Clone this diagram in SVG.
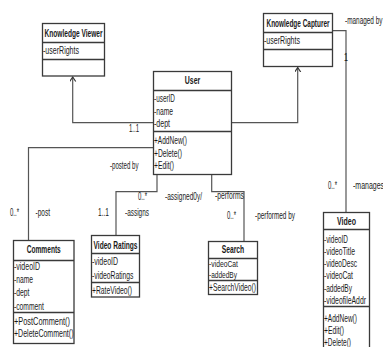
<svg xmlns="http://www.w3.org/2000/svg" width="383" height="347" viewBox="0 0 383 347">
<defs>
<marker id="arr" markerUnits="userSpaceOnUse" markerWidth="8" markerHeight="8" refX="4.5" refY="3" orient="auto">
<path d="M0,0 L4.5,3 L0,6" fill="none" stroke="#333" stroke-width="1.2"/>
</marker>
</defs>
<style>
.box{fill:#fff;stroke:#3a3a3a;stroke-width:1.3}
.dv{stroke:#3a3a3a;stroke-width:1.5}
text{font-family:"Liberation Sans",Arial,sans-serif;font-size:10.5px;fill:#1a1a1a}
.h{font-weight:bold;text-anchor:middle}
.l{font-size:10px}
.s{font-size:9.5px}
.conn{fill:none;stroke:#555;stroke-width:1.2}
</style>
<rect width="383" height="347" fill="#fff"/>
<g id="connectors">
<path class="conn" d="M153.5,122.7 H72.7 V77" marker-end="url(#arr)"/>
<path class="conn" d="M231.5,122.7 H297.7 V67.5" marker-end="url(#arr)"/>
<path class="conn" d="M153.5,147.7 H28.5 V240.5"/>
<path class="conn" d="M157,174.5 V191.7 H116 V235.5"/>
<path class="conn" d="M211.7,174.5 V191.7 H244 V241.5"/>
<path class="conn" d="M332.5,30.7 H346 V212.5"/>
<text class="l" x="129" y="131.5" textLength="10" lengthAdjust="spacingAndGlyphs">1..1</text>
<text class="l" x="110" y="168.5" textLength="28.5" lengthAdjust="spacingAndGlyphs">-posted by</text>
<text class="l" x="10" y="216" textLength="9" lengthAdjust="spacingAndGlyphs">0..*</text>
<text class="l" x="35.5" y="216" textLength="14.5" lengthAdjust="spacingAndGlyphs">-post</text>
<text class="l" x="138" y="200" textLength="9" lengthAdjust="spacingAndGlyphs">0..*</text>
<text class="l" x="98" y="216" textLength="11" lengthAdjust="spacingAndGlyphs">1..1</text>
<text class="l" x="125" y="216" textLength="24" lengthAdjust="spacingAndGlyphs">-assigns</text>
<text class="l" x="165" y="200" textLength="37" lengthAdjust="spacingAndGlyphs">-assigned0y/</text>
<text class="l" x="215" y="199" textLength="29" lengthAdjust="spacingAndGlyphs">-performs</text>
<text class="l" x="227" y="218.5" textLength="9" lengthAdjust="spacingAndGlyphs">0..*</text>
<text class="l" x="255" y="218.5" textLength="40" lengthAdjust="spacingAndGlyphs">-performed by</text>
<text class="l" x="345" y="23.5" textLength="37.5" lengthAdjust="spacingAndGlyphs">-managed by</text>
<text class="l" x="344" y="61" textLength="4" lengthAdjust="spacingAndGlyphs">1</text>
<text class="l" x="328" y="188.5" textLength="9" lengthAdjust="spacingAndGlyphs">0..*</text>
<text class="l" x="353" y="188.5" textLength="31" lengthAdjust="spacingAndGlyphs">-manages</text>
</g>
<g id="knowledge-viewer">
<rect class="box" x="42.5" y="23.5" width="62" height="52.5"/>
<line class="dv" x1="42.5" y1="42.5" x2="104.5" y2="42.5"/>
<line class="dv" x1="42.5" y1="59.5" x2="104.5" y2="59.5"/>
<text class="h" x="73.5" y="36.5" textLength="58" lengthAdjust="spacingAndGlyphs">Knowledge Viewer</text>
<text x="43" y="53.5" textLength="36" lengthAdjust="spacingAndGlyphs">-userRights</text>
</g>
<g id="knowledge-capturer">
<rect class="box" x="263.5" y="13.5" width="69" height="53"/>
<line class="dv" x1="263.5" y1="32.5" x2="332.5" y2="32.5"/>
<line class="dv" x1="263.5" y1="49.5" x2="332.5" y2="49.5"/>
<text class="h" x="298" y="26.5" textLength="63" lengthAdjust="spacingAndGlyphs">Knowledge Capturer</text>
<text x="264" y="43.5" textLength="36" lengthAdjust="spacingAndGlyphs">-userRights</text>
</g>
<g id="user">
<rect class="box" x="153.5" y="71.5" width="78" height="103"/>
<line class="dv" x1="153.5" y1="90.5" x2="231.5" y2="90.5"/>
<line class="dv" x1="153.5" y1="131.5" x2="231.5" y2="131.5"/>
<text class="h" x="192.5" y="84" textLength="15.5" lengthAdjust="spacingAndGlyphs">User</text>
<text x="154" y="102" textLength="21" lengthAdjust="spacingAndGlyphs">-userID</text>
<text x="154" y="114.5" textLength="19" lengthAdjust="spacingAndGlyphs">-name</text>
<text x="154" y="127" textLength="16" lengthAdjust="spacingAndGlyphs">-dept</text>
<text x="154" y="144" textLength="33" lengthAdjust="spacingAndGlyphs">+AddNew()</text>
<text x="154" y="156.5" textLength="28" lengthAdjust="spacingAndGlyphs">+Delete()</text>
<text x="154" y="169" textLength="20" lengthAdjust="spacingAndGlyphs">+Edit()</text>
</g>
<g id="comments">
<rect class="box" x="13.5" y="240.5" width="60.5" height="103"/>
<line class="dv" x1="13.5" y1="260.5" x2="74" y2="260.5"/>
<line class="dv" x1="13.5" y1="312.5" x2="74" y2="312.5"/>
<text class="h" x="43.75" y="253" textLength="34" lengthAdjust="spacingAndGlyphs">Comments</text>
<text x="14" y="270.2" textLength="26" lengthAdjust="spacingAndGlyphs">-videoID</text>
<text x="14" y="282.8" textLength="19" lengthAdjust="spacingAndGlyphs">-name</text>
<text x="14" y="296.2" textLength="15.5" lengthAdjust="spacingAndGlyphs">-dept</text>
<text x="14" y="309.5" textLength="30" lengthAdjust="spacingAndGlyphs">-comment</text>
<text x="14" y="325" textLength="56" lengthAdjust="spacingAndGlyphs">+PostComment()</text>
<text x="14" y="337" textLength="59.5" lengthAdjust="spacingAndGlyphs">+DeleteComment()</text>
</g>
<g id="video-ratings">
<rect class="box" x="91.5" y="235.5" width="48" height="61.5"/>
<line class="dv" x1="91.5" y1="253.5" x2="139.5" y2="253.5"/>
<line class="dv" x1="91.5" y1="282.5" x2="139.5" y2="282.5"/>
<text class="h" x="115.5" y="248.5" textLength="44" lengthAdjust="spacingAndGlyphs">Video Ratings</text>
<text x="92" y="265" textLength="26" lengthAdjust="spacingAndGlyphs">-videoID</text>
<text x="92" y="279" textLength="41.5" lengthAdjust="spacingAndGlyphs">-videoRatings</text>
<text x="92" y="294" textLength="40" lengthAdjust="spacingAndGlyphs">+RateVideo()</text>
</g>
<g id="search">
<rect class="box" x="208.5" y="241.5" width="49" height="53"/>
<line class="dv" x1="208.5" y1="258.5" x2="257.5" y2="258.5"/>
<line class="dv" x1="208.5" y1="280.5" x2="257.5" y2="280.5"/>
<text class="h" x="233" y="253" textLength="22.5" lengthAdjust="spacingAndGlyphs">Search</text>
<text class="s" x="209" y="267" textLength="29" lengthAdjust="spacingAndGlyphs">-videoCat</text>
<text class="s" x="209" y="277.8" textLength="28" lengthAdjust="spacingAndGlyphs">-addedBy</text>
<text x="209" y="291.3" textLength="47" lengthAdjust="spacingAndGlyphs">+SearchVideo()</text>
</g>
<g id="video">
<rect class="box" x="323.5" y="212.5" width="46" height="140"/>
<line class="dv" x1="323.5" y1="229.5" x2="369.5" y2="229.5"/>
<line class="dv" x1="323.5" y1="306.5" x2="369.5" y2="306.5"/>
<text class="h" x="346.5" y="224.5" textLength="19" lengthAdjust="spacingAndGlyphs">Video</text>
<text x="324" y="242.5" textLength="24" lengthAdjust="spacingAndGlyphs">-videoID</text>
<text x="324" y="254.8" textLength="31" lengthAdjust="spacingAndGlyphs">-videoTitle</text>
<text x="324" y="267.1" textLength="33" lengthAdjust="spacingAndGlyphs">-videoDesc</text>
<text x="324" y="279.4" textLength="29" lengthAdjust="spacingAndGlyphs">-videoCat</text>
<text x="324" y="291.7" textLength="28" lengthAdjust="spacingAndGlyphs">-addedBy</text>
<text x="324" y="304" textLength="42" lengthAdjust="spacingAndGlyphs">-videofileAddr</text>
<text x="324" y="321.5" textLength="33" lengthAdjust="spacingAndGlyphs">+AddNew()</text>
<text x="324" y="333.5" textLength="20" lengthAdjust="spacingAndGlyphs">+Edit()</text>
<text x="324" y="345.5" textLength="27" lengthAdjust="spacingAndGlyphs">+Delete()</text>
</g>
</svg>
